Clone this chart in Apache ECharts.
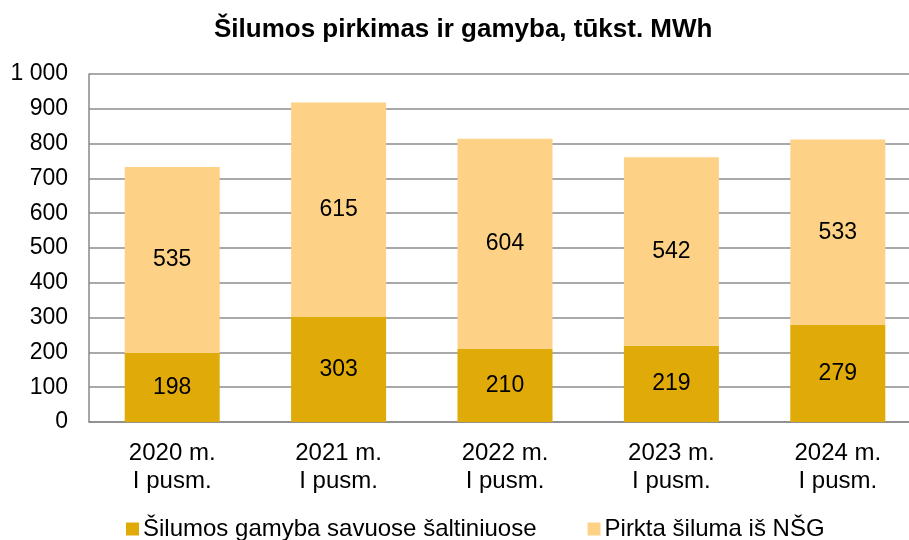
<!DOCTYPE html>
<html>
<head>
<meta charset="utf-8">
<script src="https://cdn.jsdelivr.net/npm/echarts@6/dist/echarts.min.js"></script>
<style>
  html, body { margin: 0; padding: 0; background: #fff; overflow: hidden; }
  #chart { width: 940px; height: 540px; }
</style>
</head>
<body>
<div id="chart"></div>
<script>
const categories = ['2020 m.\nI pusm.', '2021 m.\nI pusm.', '2022 m.\nI pusm.', '2023 m.\nI pusm.', '2024 m.\nI pusm.'];
const ownProduction = [198, 303, 210, 219, 279];
const purchased = [535, 615, 604, 542, 533];
const seriesNames = ['Šilumos gamyba savuose šaltiniuose', 'Pirkta šiluma iš NŠG'];

const font = 'Liberation Sans, Arial, sans-serif';

let myChart = echarts.init(document.getElementById('chart'));
let option = {
  animation: false,
  textStyle: { fontFamily: font },
  title: {
    text: 'Šilumos pirkimas ir gamyba, tūkst. MWh',
    left: 209,
    top: 12,
    textStyle: { fontSize: 26, fontWeight: 'bold', color: '#000', fontFamily: font }
  },
  legend: {
    data: seriesNames,
    left: 121,
    top: 512,
    itemWidth: 13,
    itemHeight: 13,
    itemGap: 51,
    icon: 'rect',
    textStyle: { fontSize: 24, color: '#000', fontFamily: font, padding: [0, 0, 0, -1] }
  },
  grid: {
    left: 89,
    top: 74,
    width: 832,
    height: 348
  },
  xAxis: {
    type: 'category',
    data: categories,
    axisLine: { lineStyle: { color: '#898989', width: 1.5 } },
    axisTick: { show: false },
    axisLabel: { fontSize: 24, color: '#000', lineHeight: 28, margin: 17, fontFamily: font }
  },
  yAxis: {
    type: 'value',
    min: 0,
    max: 1000,
    interval: 100,
    axisLine: { show: true, lineStyle: { color: '#898989', width: 1.5 } },
    axisTick: { show: false },
    splitLine: { lineStyle: { color: '#8c8c8c', width: 1.5 } },
    axisLabel: {
      fontSize: 23, color: '#000', margin: 21, fontFamily: font, padding: [3, 0, 0, 0],
      formatter: v => v >= 1000 ? String(v).replace(/\B(?=(\d{3})+(?!\d))/g, ' ') : String(v)
    }
  },
  series: [
    {
      name: seriesNames[0],
      type: 'bar',
      stack: 'total',
      barWidth: 95,
      data: ownProduction,
      itemStyle: { color: '#E0AA08' },
      label: { show: true, position: 'inside', fontSize: 23, color: '#000', fontFamily: font }
    },
    {
      name: seriesNames[1],
      type: 'bar',
      stack: 'total',
      barWidth: 95,
      data: purchased,
      itemStyle: { color: '#FDD286' },
      label: { show: true, position: 'inside', fontSize: 23, color: '#000', fontFamily: font }
    }
  ]
};
myChart.setOption(option);
</script>
</body>
</html>
